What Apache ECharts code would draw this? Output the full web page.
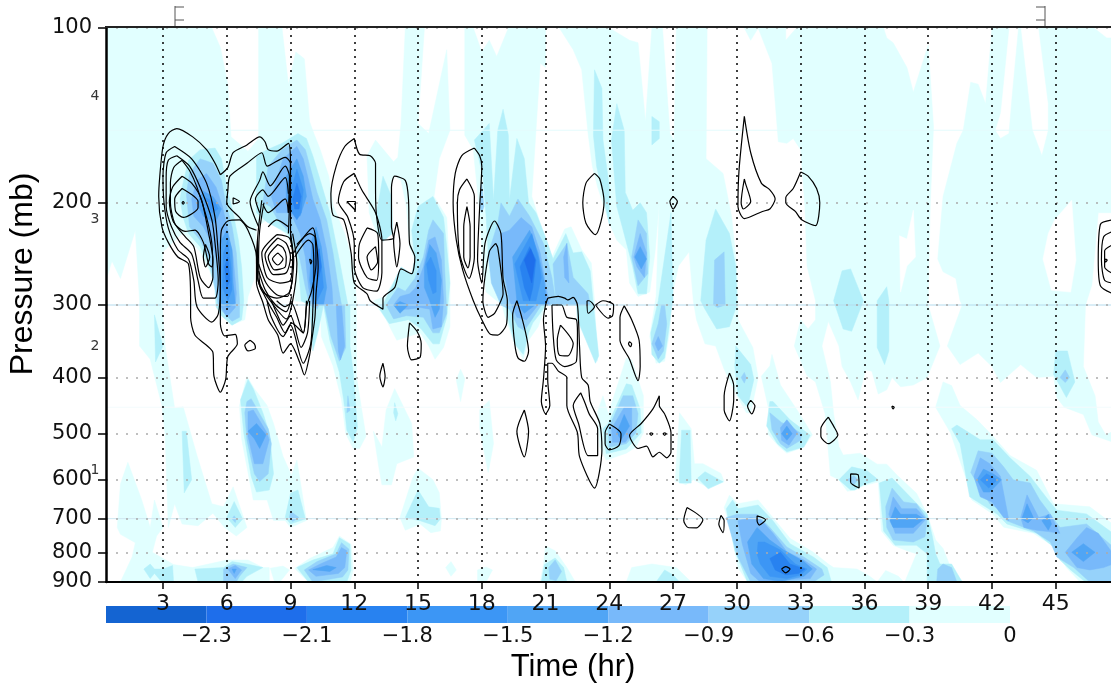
<!DOCTYPE html>
<html><head><meta charset="utf-8">
<style>html,body{margin:0;padding:0;background:#fff}#c{width:1111px;height:687px}</style>
<script src="https://cdn.jsdelivr.net/npm/echarts@6/dist/echarts.min.js"></script>
</head><body><div id="c"></div>
<script>
const xTicks=[3,6,9,12,15,18,21,24,27,30,33,36,39,42,45];
const yTicks=[100,200,300,400,500,600,700,800,900];
const gridLevels=[200,300,400,500,600,700,800];
const heightLabels=[['1',577],['2',354],['3',214],['4',131]];
const barLabels=['\u22122.3','\u22122.1','\u22121.8','\u22121.5','\u22121.2','\u22120.9','\u22120.6','\u22120.3','0'];
const shades=['#1464d2','#1e6eeb','#2882f0','#3c96f5','#50a5f5','#78b9fa','#96d2fa','#b4f0fa','#e1ffff'];
const faintLevels=[[150,'#e4fbfd'],[300,'#b5dcee'],[450,'#f3fbfd'],[700,'#cfe8f2']];

const band0=[
[[.3,100],[5.3,100],[5.7,108],[6.05,125],[6.2,154],[7,163],[7.5,155],[7.5,100],[8.6,100],[8.9,125],[9.25,110],[9.65,113],[9.9,145],[10.1,152],[10.4,162],[10.8,180],[11,202],[11.55,226],[12,258],[12.1,295],[12.1,398],[12.55,505],[12.25,530],[11.95,530],[11.6,500],[11.4,437],[11,382],[10.45,340],[10.4,300],[9.2,295],[9.3,245],[8.75,226],[7.9,214],[7.4,220],[7.3,270],[7,290],[6.85,318],[6.2,325],[5.85,300],[5.7,295],[5.2,262],[4.75,243],[3.95,225],[3,243],[2.95,295],[3.1,353],[3.55,452],[3.95,449],[4.6,545],[5.3,660],[5.85,668],[6.3,617],[6.95,725],[6.45,750],[5.9,725],[5.35,685],[4.65,720],[3.9,715],[3.55,660],[3.25,725],[3.1,500],[2.95,447],[2.4,372],[1.9,353],[1.9,295],[1.7,223],[1,270],[.6,252],[.35,270],[.3,270]],
[[1.35,560],[2,650],[2.4,725],[2.6,650],[3,725],[2.7,750],[2.5,800],[3.5,840],[4.4,850],[6,825],[7,825],[7.7,850],[8,850],[8,900],[1,900],[1.55,815],[1.7,770],[1,745],[.85,725],[1,610]],
[[6.95,398],[6.6,447],[6.7,510],[6.95,570],[7.25,650],[7.9,650],[8.2,705],[8.75,705],[9,725],[9.75,705],[9.3,555],[9.05,590],[8.65,547],[8.2,480],[7.9,447],[7.3,418]],
[[12.9,495],[13.3,527],[13.5,455],[13.9,418],[14.7,480],[14.8,548],[14,563],[13.75,612],[13.3,612],[13.15,570]],
[[14.15,697],[14.75,595],[15,573],[15.7,600],[16,632],[16.1,702],[16.05,735],[15.6,740],[15.1,715],[14.4,733]],
[[16.3,850],[16.55,830],[16.8,858],[16.55,880]],
[[17.8,858],[18.2,848],[18.5,858],[18.2,900],[17.8,900]],
[[17,387],[17.2,402],[17,440],[16.8,404]],
[[17.9,455],[18.35,438],[18.55,520],[18.3,583],[17.9,490]],
[[8.05,852],[8.65,845],[8.95,858],[8.5,900],[8.25,900]],
[[9.2,853],[9.9,820],[11,785],[11.3,750],[11.85,775],[11.95,858],[11.8,900],[9.85,900]],
[[13,156],[13.85,170],[14.05,167],[14.2,146],[14.4,100],[15.3,100],[15,146],[15.5,152],[16.35,109],[16.5,150],[16,168],[15.75,195],[16.35,212],[16.5,275],[16.5,327],[16.2,355],[15.8,372],[15.5,353],[15.1,335],[14,345],[13.5,318],[12.9,295],[13.45,290],[14.2,260],[14.7,265],[14.85,251],[14.6,238],[14.45,203],[14.2,183],[13.9,180],[13.75,183],[13.8,220],[13.5,232],[13.05,226],[12.7,208],[12.6,166]],
[[17.2,100],[17.6,100],[18,110],[18.35,105],[18.7,112],[19.25,100],[21,100],[21,117],[20.75,115],[20.35,195],[21,232],[21.3,248],[21.9,222],[22.2,220],[22.7,241],[23.15,254],[23.3,295],[23.45,375],[23.2,333],[22.9,315],[22.5,295],[21,300],[20.65,327],[20.2,345],[19.95,372],[19.55,350],[19.1,315],[18.95,300],[18.2,285],[18.05,258],[17.9,208],[17.6,162],[17.2,153]],
[[21.65,100],[24,100],[24.95,105],[25.35,106],[25.7,145],[26,100],[26.5,100],[26.85,152],[27.05,156],[27.15,100],[28.6,100],[28.55,168],[29.35,178],[29.75,211],[30,260],[30.05,295],[30.05,318],[30.75,355],[31,400],[30.65,460],[30.45,460],[30,430],[29.4,387],[29,353],[28.5,350],[28.1,318],[27.95,295],[27.75,243],[27.25,257],[26.9,295],[26.85,333],[26.6,375],[26.2,378],[25.9,340],[26.2,290],[26.35,200],[26.15,243],[25.9,285],[25.35,290],[24.95,275],[24.8,241],[24.35,232],[24,217],[23.45,188],[23.2,173],[23,152],[22.7,118],[22.3,109]],
[[30.35,100],[31,100],[30.65,105]],
[[21,780],[21.45,795],[22,850],[22.4,900],[20.75,900],[20.9,840]],
[[23.7,430],[23.95,462],[24.8,370],[25.05,373],[25.6,430],[25.6,498],[25.25,527],[24.8,540],[23.85,555],[23.55,527],[23.45,458]],
[[24.8,900],[25.05,850],[26,838],[27.15,850],[27.85,900]],
[[27.1,603],[27.3,460],[27.85,490],[28,563],[28.4,563],[29.25,585],[29.4,605],[28.7,620],[27.95,600],[27.6,612]],
[[31,100],[32.3,100],[32.3,105],[32.8,100],[36.9,100],[37.05,104],[37.35,106],[38,117],[38.3,129],[39,107],[39.25,148],[39.1,200],[39,295],[39,300],[39.55,353],[38.95,400],[38.3,412],[37.7,415],[37.3,400],[37.05,420],[36.65,427],[36.35,390],[36.05,388],[35.7,437],[35.35,407],[34.95,383],[34.8,353],[34.3,320],[34,353],[34.4,407],[34.55,462],[34.8,526],[35,544],[35.8,540],[36.6,564],[37.05,564],[37.55,590],[38.45,633],[38.95,688],[39.35,762],[39.7,788],[40.1,858],[40.65,900],[37.9,900],[38.45,805],[38,795],[37.35,778],[36.8,735],[36.65,605],[35.95,615],[35.55,625],[35.2,628],[34.8,600],[34.4,590],[34.15,462],[33.7,407],[33.3,397],[32.7,353],[33,318],[33.35,330],[33.7,318],[33.7,295],[33.3,257],[33.2,203],[33,162],[32.65,155],[32.35,158],[31.95,157],[31.8,134],[31.65,115]],
[[36.6,900],[37,860],[37.6,880],[37.85,900]],
[[41,124],[41.35,125],[41.7,135],[42,100],[42.8,100],[42.4,140],[42.15,150],[42.4,155],[42.8,152],[42.95,131],[43.25,100],[43.35,100],[43.9,150],[44.35,166],[44.65,150],[44.65,135],[44.2,100],[46.8,100],[47.4,104],[47.7,104],[47.7,208],[47,208],[46.7,277],[46.4,300],[46.3,383],[46.85,430],[47,477],[47.35,502],[47.7,495],[47.7,517],[46.7,502],[46.3,463],[45.4,450],[45.05,433],[44.9,398],[44.1,400],[43.35,380],[42.4,408],[42,383],[41.35,363],[40.5,380],[39.9,353],[40.6,300],[40.5,295],[40.3,270],[39.7,263],[39.45,250],[39.55,226],[39.7,195],[40.35,158],[40.65,150]],
[[31.55,382],[31.15,398],[31.55,463],[31.45,500],[32,527],[32.35,540],[33.15,527],[33.55,502],[33,465],[32.05,412],[31.65,365]],
[[29.4,670],[29.65,638],[30.05,660],[31,650],[31.55,687],[32.5,757],[33.6,800],[34.3,838],[34.55,850],[35.65,855],[36.25,880],[36.6,900],[30.5,900],[30.05,850],[29.7,725]],
[[39.35,450],[39.7,407],[40.1,413],[40.5,447],[41.3,473],[42.05,505],[42.85,545],[44.1,578],[44.9,660],[46.6,668],[47.7,716],[47.7,900],[46.15,900],[45.5,850],[45.05,788],[43.95,742],[42.55,724],[42.05,688],[41.05,650],[40.8,600],[40.05,498]]
];
const gaps=[
[[45.75,198],[45.5,203],[44.95,214],[44.65,226],[44.4,250],[44.8,283],[45.7,285],[45.95,251]],
[[38.3,206],[38.4,248],[38,257],[37.7,285],[37.65,228],[38,231]]
];
const band1=[
[[3.9,188],[4.2,169],[4.75,162],[5.45,161],[5.75,168],[6,188],[6.3,208],[6.55,232],[6.7,258],[6.8,295],[6.7,318],[6.25,325],[5.75,313],[5.5,302],[5.45,283],[5.2,258],[4.75,238],[4.2,226],[3.95,212],[3.8,197]],
[[7.4,208],[7.4,166],[7.9,162],[8.6,158],[9.35,152],[9.75,155],[10.05,166],[10.4,183],[10.85,208],[11.3,251],[11.7,300],[10.55,300],[10.3,333],[10.05,360],[9.9,300],[9.5,295],[9.35,251],[8.9,226],[7.9,216]],
[[10.55,300],[10.85,345],[11.3,392],[11.5,437],[11.65,493],[11.95,517],[12.15,487],[12.05,437],[11.95,392],[11.8,353],[11.8,300]],
[[2.6,312],[3,353],[2.65,376]],
[[3.9,495],[4.1,495],[4.35,600],[4,632]],
[[7,403],[6.65,437],[6.8,498],[7.15,592],[7.4,630],[8,625],[8.2,586],[8,498],[7.7,460],[7.25,418]],
[[6.35,654],[6,697],[6.4,725],[6.75,701]],
[[9,633],[9.35,625],[9.7,701],[9,715],[8.75,697]],
[[13.9,442],[14.05,462],[13.95,475],[13.85,460]],
[[14.4,697],[15,625],[15.5,668],[16,672],[16.05,701],[15.8,720],[15.1,706]],
[[2.1,855],[2.4,838],[2.6,855],[3,855],[3.45,843],[3.5,900],[2.95,900],[2.6,870],[2.4,888]],
[[4.5,855],[5.85,850],[6.25,830],[6.95,838],[7.7,850],[6.95,880],[6.7,900],[4.65,900]],
[[9.3,850],[10.05,825],[11,805],[11.3,755],[11.8,775],[11.85,858],[11.65,900],[9.85,900]],
[[13.35,300],[14.2,258],[14.7,265],[14.85,251],[14.7,223],[15,203],[15.7,195],[16.2,212],[16.35,238],[16.5,275],[16.35,315],[16,350],[15.7,350],[15.15,330],[14.55,318],[13.65,323],[13.2,305]],
[[13.05,208],[13.35,180],[13.75,195],[13.8,226],[13.35,233],[13.1,226]],
[[17.65,156],[18.35,146],[18.55,198],[18.75,150],[19,138],[19.25,153],[19.3,198],[19.65,155],[20,168],[20.2,200],[20.55,208],[21.05,232],[21.35,250],[21.95,226],[22.3,244],[22.7,243],[23.1,262],[23.25,300],[23.5,367],[23.35,378],[22.9,345],[22.5,318],[22.45,300],[21,300],[20.75,310],[20.4,322],[20.2,335],[19.95,365],[19.55,350],[19.25,318],[19.1,300],[18.55,272],[18.3,245],[18.2,211],[18.05,180]],
[[23.3,118],[23.65,127],[23.7,156],[24,188],[24,218],[23.4,173],[23.25,153]],
[[24.1,156],[24.35,135],[24.7,150],[24.75,192],[25.1,206],[25.45,200],[25.75,208],[25.9,248],[25.75,287],[25.35,287],[25.1,258],[24.65,223],[24.35,203]],
[[26,142],[26.35,145],[26.35,155],[26,159]],
[[28.3,295],[28.55,232],[29,205],[29.65,226],[29.95,258],[30,300],[29.65,327],[29.05,330],[28.5,305]],
[[26.3,295],[26.9,208],[27,295],[26.95,300],[26.75,340],[26.6,370],[26.35,378],[26,365],[25.95,335]],
[[29.95,353],[30.65,380],[30.8,403],[30.5,450],[30.05,430],[29.9,383]],
[[23.7,490],[23.95,480],[24.8,410],[25.05,412],[25.45,453],[25.5,498],[24.8,531],[23.85,541]],
[[20.95,840],[21.45,818],[21.85,850],[22,900],[20.8,900]],
[[26.2,900],[26.6,858],[27,875],[27.3,900]],
[[27.3,586],[27.4,493],[27.8,493],[27.85,608],[27.3,608]],
[[28.15,596],[28.5,581],[29.35,605],[28.65,622]],
[[31.55,440],[31.7,440],[32.5,473],[33.45,503],[33.15,527],[32.35,537],[31.9,520],[31.4,485]],
[[34.8,600],[35.4,570],[36.1,578],[36.65,600],[35.95,612],[35.55,625],[35.35,625]],
[[29.5,673],[29.8,650],[30.05,673],[31,663],[31.7,706],[32.5,773],[33.6,815],[34.25,850],[34.45,900],[30.5,900],[29.9,795]],
[[36.7,608],[37.3,596],[38.15,642],[38.95,688],[39.2,752],[39.35,805],[39.55,838],[40.1,838],[40.6,900],[38.95,900],[38.95,805],[38.45,778],[37.45,778],[36.9,735]],
[[40.1,490],[40.35,483],[41.45,512],[42.05,512],[42.85,550],[43.8,592],[44.65,650],[45.05,677],[46.45,687],[47.7,742],[47.7,900],[46.4,900],[45.7,858],[45.2,825],[44.9,783],[44.1,742],[42.7,715],[42.25,688],[40.95,642],[40.5,520]],
[[34.55,295],[34.95,262],[35.35,260],[35.95,295],[35.4,333],[35,330]],
[[36.6,295],[37.05,279],[37.15,295],[37.15,360],[36.95,380],[36.6,355]],
[[45,360],[45.55,360],[45.9,407],[45.5,433],[44.9,395]]
];
const band2=[
[[4.1,193],[4.25,178],[4.75,168],[5.35,171],[5.75,183],[5.95,200],[6.25,220],[6.45,244],[6.6,295],[6.6,315],[6.25,320],[5.8,308],[5.6,300],[5.45,280],[5.2,251],[4.75,232],[4.25,220]],
[[7.95,173],[8.6,162],[9.3,156],[9.7,162],[9.95,175],[10.25,192],[10.7,214],[11,244],[11.25,280],[11.4,300],[10.7,300],[10.6,286],[10.25,305],[9.9,300],[9.7,280],[9.45,251],[9,226],[8.4,214],[8.05,203],[7.7,200]],
[[10.6,300],[10.9,340],[11.3,375],[11.6,355],[11.55,300]],
[[11.7,430],[11.8,456],[11.65,460]],
[[13.5,300],[14.05,280],[14.4,284],[14.85,270],[15.25,248],[15.5,223],[15.7,214],[16.2,226],[16.25,258],[16.35,310],[16,335],[15.7,335],[15.25,315],[14.45,313],[13.85,317]],
[[18.75,217],[18.9,200],[19.3,211],[19.7,197],[20.25,211],[20.9,235],[21.3,269],[21.5,300],[20.8,300],[20.35,318],[20,332],[19.7,327],[19.3,305],[18.9,300],[18.45,275],[18.3,245],[18.55,229]],
[[17.9,203],[18,185],[18.1,203],[18,208]],
[[21.35,255],[22,235],[22.3,269],[23,287],[23.1,300],[21.5,300]],
[[25.35,214],[25.75,226],[25.8,265],[25.35,278],[25.05,248]],
[[28.95,251],[29.4,243],[29.45,300],[29.1,303],[28.9,300]],
[[26.3,323],[26,350],[26.3,372],[26.55,360],[26.7,323],[26.6,300],[26.45,300]],
[[30.35,392],[30.2,400],[30.35,409],[30.45,400]],
[[23.95,490],[24.65,430],[25.1,430],[25.35,462],[25.25,498],[24.8,520],[24,527]],
[[21.15,850],[21.45,825],[21.75,863],[21.5,895],[21.2,890]],
[[6.95,440],[7.15,435],[7.95,490],[8.1,520],[7.95,586],[7.55,604],[7.3,586],[6.95,513],[6.85,460]],
[[6.35,692],[6.25,701],[6.4,711],[6.45,701]],
[[9,680],[9.4,697],[9.1,708],[8.95,697]],
[[5.85,855],[6.3,838],[6.95,850],[6.6,880],[6.45,900],[5.85,900]],
[[9.65,858],[10.25,830],[11.15,805],[11.4,770],[11.75,790],[11.7,858],[11.45,882],[10.05,900]],
[[29.5,697],[30,688],[30.95,688],[31.55,725],[32.35,783],[33.15,815],[34,855],[34.1,875],[33.6,900],[30.65,900],[30.05,815]],
[[31.55,460],[32.1,478],[32.5,485],[33.05,500],[33,513],[32.35,530],[32.05,520],[31.65,492]],
[[35.2,600],[35.5,590],[35.7,600],[35.5,612]],
[[37,668],[37.3,620],[37.85,655],[38.45,660],[38.95,701],[38.85,752],[38.3,768],[37.35,762],[37.05,725]],
[[39.4,900],[39.45,855],[39.7,838],[40.1,850],[40.35,900]],
[[41,583],[41.35,535],[42,540],[42.55,570],[43,600],[43.8,608],[44.25,650],[44.75,688],[45.2,725],[46.45,715],[47.7,783],[47.7,900],[46.6,900],[45.85,850],[45.05,815],[44.75,768],[43.95,735],[42.7,706],[42.4,677],[41.9,660]],
[[45.2,400],[45.45,388],[45.65,400],[45.45,408]]
];
const band3=[
[[4.35,197],[4.6,183],[5.05,178],[5.5,188],[5.8,203],[6.05,223],[6.3,248],[6.45,286],[6.4,303],[6,315],[5.7,300],[5.65,286],[5.6,258],[5.3,235],[4.9,220],[4.45,211]],
[[8.1,195],[8.65,168],[9.3,160],[9.6,168],[9.85,183],[10.05,197],[10.4,214],[10.7,241],[10.95,280],[11,300],[10.05,300],[9.85,280],[9.7,248],[9.45,226],[9,208],[8.35,208]],
[[11.15,300],[11.25,360],[11.35,373],[11.55,353],[11.4,300]],
[[13.85,300],[14.15,290],[14.6,287],[14.9,280],[15.25,258],[15.5,232],[15.8,229],[16.1,251],[16.2,295],[16.1,327],[15.7,330],[15.55,305],[15.1,303],[14.55,305],[14.05,305]],
[[18.9,226],[19.3,223],[19.85,212],[20.35,220],[20.75,244],[21.05,283],[21.2,300],[20.65,300],[20.1,318],[19.65,315],[19.4,300],[19.3,295],[19.15,275],[18.85,251]],
[[21.85,248],[22,235],[22.1,275],[21.9,269]],
[[25.45,226],[25.75,244],[25.65,269],[25.3,258],[25.15,248]],
[[26.15,350],[26.3,340],[26.5,353],[26.3,360]],
[[24.1,490],[24.7,450],[25.05,450],[25.05,498],[24.75,517],[24.15,517]],
[[7,458],[7.25,455],[7.85,495],[8,512],[7.7,563],[7.3,563],[7,505]],
[[6.05,855],[6.4,843],[6.7,858],[6.4,888]],
[[9.85,858],[10.4,838],[11.15,815],[11.4,785],[11.65,795],[11.55,850],[11.25,870],[10.2,880]],
[[30.05,706],[30.65,697],[31.1,701],[31.7,742],[32.35,798],[33.15,825],[33.75,855],[33.45,888],[31.1,900],[30.65,870],[30.25,773]],
[[32.05,488],[32.35,473],[32.85,498],[32.45,523],[32.1,513]],
[[37.15,688],[37.35,642],[37.75,673],[38.45,673],[38.9,701],[38.3,742],[37.45,742]],
[[41.15,592],[41.45,550],[41.9,563],[42.4,592],[42.8,706],[42.55,697],[42,655],[41.45,642]],
[[43.35,697],[43.65,637],[44.2,697],[44.75,688],[45.2,742],[44.65,737],[44.1,733],[43.5,725]],
[[45.45,800],[46.05,752],[46.45,725],[47,742],[47.7,805],[47.7,838],[47.25,850],[46.6,858],[46,850]]
];
const band4=[
[[4.6,200],[4.9,191],[5.35,195],[5.75,205],[5.45,217],[4.9,211]],
[[5.75,232],[6,223],[6.25,241],[6.3,275],[6.4,298],[6.05,303],[5.75,298],[5.7,258]],
[[8.8,180],[9.3,168],[9.6,180],[9.75,195],[9.45,211],[9.15,208],[8.8,197]],
[[10,232],[10.2,220],[10.45,238],[10.7,280],[10.55,300],[10.05,300],[9.9,272]],
[[15.3,258],[15.55,236],[15.85,244],[16.1,272],[16,305],[15.8,315],[15.55,295],[15.3,280]],
[[13.85,300],[14.15,296],[14.55,300],[14.15,310]],
[[19.45,248],[20.25,223],[20.65,244],[20.95,275],[21.05,300],[20.5,300],[20,310],[19.7,300],[19.65,295]],
[[25.45,238],[25.75,250],[25.5,260],[25.2,248]],
[[24.35,498],[24.7,463],[24.95,485],[24.55,512]],
[[7,495],[7.4,480],[7.85,502],[7.55,530],[7.3,510]],
[[6.25,855],[6.45,855],[6.35,870]],
[[10.05,857],[10.7,843],[11.15,850],[10.85,863]],
[[30.5,768],[30.95,725],[31.55,762],[32.2,793],[33.15,830],[33.55,855],[33.15,880],[32.05,898],[31.25,888],[30.7,838]],
[[32.1,500],[32.35,485],[32.6,500],[32.35,513]],
[[37.2,706],[37.45,668],[37.7,688],[38.45,688],[38.8,701],[38.3,725],[37.35,725]],
[[41.3,600],[41.6,575],[42.05,586],[42.45,600],[41.9,630],[41.6,630]],
[[43.4,701],[43.65,660],[43.95,697],[43.7,712]],
[[44.35,706],[44.65,688],[44.8,715],[44.65,733]],
[[45.75,800],[46.3,773],[46.85,800],[46.3,830]]
];
const band5=[
[[5.85,244],[6.05,232],[6.2,258],[6.25,282],[6.05,295],[5.8,280]],
[[5,196],[5.45,200],[5.6,205],[5.3,208]],
[[8.95,195],[9.3,175],[9.6,190],[9.5,208],[9.3,214],[8.95,205]],
[[10.05,244],[10.25,232],[10.45,255],[10.55,280],[10.25,295],[10,275]],
[[15.4,255],[15.6,248],[15.85,262],[15.85,285],[15.7,287],[15.5,272]],
[[19.55,255],[20.35,226],[20.65,248],[20.8,269],[20.55,295],[19.95,295]],
[[30.95,805],[31,768],[31.3,768],[32.05,793],[32.75,838],[33.3,855],[33,875],[32.35,888],[31.55,880],[31.1,838]],
[[41.45,600],[41.75,586],[42.25,600],[41.85,620]]
];
const band6=[
[[5.9,258],[6.05,248],[6.15,272],[6,280]],
[[9.1,197],[9.3,185],[9.5,195],[9.4,205],[9.2,205]],
[[10.2,244],[10.35,240],[10.45,258],[10.3,272],[10.15,258]],
[[19.8,258],[20.25,238],[20.55,251],[20.4,280],[20.25,295],[20,280]],
[[31.55,820],[32.05,800],[32.5,838],[33.2,855],[32.9,870],[32.3,875],[31.8,858]]
];
const band7=[
[[20,251],[20.3,240],[20.5,251],[20.35,275]]
];

const closedContours=[
[[5.7,179],[5.45,171],[5.05,162],[4.4,154],[3.65,149],[3.25,152],[3,160],[2.85,180],[2.8,195],[2.95,220],[3.25,234],[3.7,248],[4.2,255],[4.3,295],[4.3,315],[4.5,338],[5.05,352],[5.35,362],[5.4,398],[5.7,424],[5.95,403],[6.05,368],[6.5,350],[6.4,337],[5.9,339],[5.7,323],[5.7,295],[5.7,244],[5.75,223],[6.05,215],[6.6,214],[7,223],[7.4,248],[7.4,275],[7.7,297],[7.95,318],[8.4,338],[8.65,363],[9,350],[9.45,378],[9.65,396],[9.9,366],[10,345],[10.15,315],[10.2,287],[10.3,258],[10.2,232],[10.05,221],[9.3,238],[9.15,244],[9,226],[9,203],[9,173],[8.9,158],[8.35,163],[7.95,162],[7.8,157],[7.55,154],[6.95,159],[6.3,164],[6.05,174]],
[[3.55,160],[3.15,164],[3,180],[3.05,200],[3.25,221],[3.7,241],[4.2,250],[4.45,272],[4.6,302],[5.3,321],[5.6,311],[5.7,280],[5.6,244],[5.45,212],[5.05,185],[4.35,168]],
[[3.65,166],[3.25,169],[3.15,181],[3.15,203],[3.4,220],[3.8,234],[4.35,245],[4.65,272],[4.9,292],[5.45,292],[5.6,272],[5.45,235],[5.3,214],[4.8,190],[4.25,173]],
[[3.9,169],[3.5,174],[3.35,185],[3.35,200],[3.55,217],[4.05,229],[4.45,238],[4.75,269],[5.15,280],[5.35,269],[5.3,235],[5.05,212],[4.6,188],[4.25,176]],
[[3.9,180],[3.45,188],[3.3,199],[3.5,216],[4.05,224],[4.5,223],[4.9,234],[5.15,255],[5.3,258],[5.35,251],[5.15,226],[4.8,197],[4.35,185]],
[[3.9,189],[3.55,197],[3.6,207],[3.95,212],[4.65,204],[4.65,199]],
[[5,236],[4.9,248],[5,258],[5.2,248]],
[[3.95,199],[4,200],[3.95,201],[3.9,200]],
[[6.3,196],[6.6,199],[6.3,201]],
[[8.4,244],[8.15,250],[8.4,256],[8.65,250]],
[[8.4,236],[7.95,248],[8.25,261],[8.75,258],[8.8,248],[8.65,239]],
[[8.4,230],[7.8,246],[8.2,266],[8.8,264],[9,248],[8.8,235]],
[[8.35,227],[7.65,244],[7.9,269],[8.5,275],[9,272],[9.1,248],[8.95,230]],
[[9.9,250],[10,252],[9.95,255]],
[[7.1,345],[6.85,352],[7,360],[7.35,356],[7.3,350]],
[[12,155],[12.25,165],[12.75,166],[13,171],[13,190],[13.05,211],[13.3,232],[13.85,230],[13.75,220],[13.75,188],[13.9,180],[14.4,183],[14.55,197],[14.6,235],[14.85,248],[14.7,265],[14.2,260],[13.9,280],[13.35,292],[13.35,305],[12.75,295],[12.6,287],[12,275],[11.85,244],[11.5,214],[11,210],[10.9,193],[11.15,173],[11.55,160]],
[[12,178],[11.5,184],[11.25,199],[11.7,212],[12,235],[12,258],[12.4,280],[13.05,284],[13.3,264],[13.3,232],[13,208],[12.35,190]],
[[12.6,221],[12.25,235],[12.2,248],[12.6,269],[13.05,272],[13.15,248],[13.1,226]],
[[13,238],[12.6,248],[12.8,261],[13.1,253]],
[[11.65,199],[12.05,199],[12.05,206]],
[[14,216],[13.85,232],[14,258],[14.15,235]],
[[13.35,378],[13.2,398],[13.35,415],[13.45,398]],
[[14.6,322],[14.5,353],[14.7,373],[15.1,369],[15.15,350],[14.95,333]],
[[17.65,161],[17.05,166],[16.75,178],[16.65,200],[16.8,232],[17.1,261],[17.6,295],[18,318],[18.4,337],[18.75,338],[19.15,325],[19.2,305],[19.2,295],[19,270],[18.9,226],[18.6,215],[18.15,235],[18,275],[17.8,251],[17.9,203],[18,173],[17.9,166]],
[[17.3,182],[16.95,190],[16.85,200],[16.95,244],[17.4,270],[17.65,248],[17.65,195]],
[[17.3,203],[17.15,220],[17.15,248],[17.35,259],[17.45,248],[17.45,220]],
[[18.65,235],[18.35,243],[18.05,295],[18.3,315],[18.6,310],[18.9,295],[19,287],[18.75,239]],
[[19.65,295],[19.45,312],[19.55,350],[19.7,370],[20,375],[20.2,360],[20.1,340],[19.85,312]],
[[21.1,292],[21.6,290],[21.9,292],[22.05,294],[22.3,291],[22.5,300],[22.6,355],[22.7,400],[23,412],[23.1,440],[23.55,480],[23.65,533],[23.3,620],[22.6,548],[22.5,498],[22,447],[22,400],[21.6,390],[21.3,378],[21.1,378],[21.1,403],[21.2,447],[21,462],[20.8,440],[20.9,403],[21,353],[20.9,318],[21,300]],
[[21.3,300],[21.35,335],[21.5,373],[21.9,383],[22.45,375],[22.5,335],[22.45,318],[22,315],[21.75,300]],
[[21.7,325],[21.55,345],[21.65,366],[22.05,367],[22.3,350]],
[[22.65,425],[22.3,447],[22.55,480],[23,545],[23.45,545],[23.45,490],[23.05,462],[22.85,442]],
[[22.95,295],[23,310],[23.3,302],[23.05,295]],
[[23.35,300],[23.7,295],[24.2,300],[24.15,313],[23.95,316]],
[[24.7,301],[24.5,315],[24.5,345],[24.95,372],[25.35,405],[25.45,383],[25.4,345],[25.05,318]],
[[24.95,347],[25.05,350],[25,354],[24.9,350]],
[[20,455],[19.65,495],[20,548],[20.2,495]],
[[24,481],[23.8,498],[23.8,520],[24,533],[24.45,524],[24.55,500]],
[[26.35,430],[26.05,453],[25.5,480],[24.95,503],[25.35,530],[25.75,525],[26.05,548],[26.35,538],[26.7,550],[26.9,538],[26.9,498],[26.6,462],[26.35,447]],
[[25.97,498],[26.05,500],[25.97,503],[25.9,500]],
[[26.6,498],[26.68,500],[26.6,503],[26.53,500]],
[[27.65,670],[27.5,705],[27.7,725],[28.1,726],[28.4,704]],
[[29.25,691],[29.15,716],[29.35,740],[29.4,706]],
[[29.65,393],[29.4,430],[29.4,455],[29.65,475],[29.85,437],[29.85,413]],
[[30.65,438],[30.5,448],[30.7,462],[30.85,448]],
[[23.3,178],[22.9,185],[22.75,200],[22.9,217],[23.35,227],[23.6,216],[23.75,199],[23.55,182]],
[[27,195],[26.85,199],[27,205],[27.2,199]],
[[30.35,142],[30.65,164],[31.15,185],[31.55,190],[31.8,197],[31.55,205],[31.2,207],[30.35,213],[30.05,203],[30.1,176]],
[[30.35,182],[30.2,200],[30.3,205],[30.65,199],[30.4,185]],
[[33,177],[32.65,189],[32.3,196],[32.3,200],[32.75,207],[33.05,214],[33.7,219],[33.9,200],[33.75,189],[33.35,180]],
[[34.3,468],[33.95,490],[33.95,505],[34.3,520],[34.75,502],[34.55,485]],
[[37.3,448],[37.4,450],[37.35,453],[37.3,450]],
[[32.1,855],[32.3,847],[32.5,855],[32.3,868]],
[[35.35,586],[35.7,588],[35.75,620],[35.35,606]],
[[30.95,692],[31.35,703],[31.05,718],[30.95,706]],
[[47.35,250],[47.42,251],[47.35,253],[47.3,251]]
];
const openContours=[
[[7.4,223],[7,220],[6.6,212],[6,200],[6.05,191],[6.15,180],[6.95,171],[7.65,164],[7.9,173],[8.75,167],[9,171],[8.95,203],[8.9,226]],
[[7.5,220],[7.1,199],[7.55,183],[7.7,177],[8.05,187],[8.75,173],[8.95,180],[8.9,208]],
[[7.55,208],[7.35,197],[7.7,190],[7.95,195],[8.75,181],[8.9,193]],
[[7.7,201],[7.95,208],[8.75,197],[8.9,208]],
[[7.95,220],[8.35,214],[8.9,220]],
[[7.65,198],[7.5,220],[7.4,248],[7.45,269],[7.7,285],[8.35,292],[8.95,285],[9.15,251],[9,226]],
[[7.75,200],[7.55,223],[7.5,248],[7.55,275],[8.2,300],[8.8,317],[9.1,295],[9.3,255],[9.1,226]],
[[7.45,232],[7.45,269],[7.9,295],[8.35,315],[8.75,335],[9.05,322],[9.6,335],[9.75,302],[10,283],[10.2,255],[10.15,229],[9.9,226],[9.3,236]],
[[7.9,295],[8.1,315],[8.65,340],[9,325],[9.6,378],[9.95,350],[10.05,305],[10.1,265],[10.05,236],[9.85,232],[9.2,248]],
[[8.1,295],[8.35,310],[8.65,325],[9,313],[9.5,355],[9.8,335],[9.9,295]],
[[8.35,295],[8.75,302],[9.05,298],[9.6,335],[9.7,320],[9.75,295]],
[[7.5,262],[7.8,282],[8.3,300],[8.8,308],[9.05,290]],
[[7.5,255],[7.85,275],[8.35,288],[8.85,290],[9.1,270]],
[[47.7,214],[47.1,218],[47,251],[47.1,278],[47.7,287]],
[[47.7,224],[47.25,229],[47.15,251],[47.3,272],[47.7,275]],
[[47.7,236],[47.3,242],[47.3,258],[47.7,265]]
];

const xMin=.32, xMax=47.6, pTop=100, pBottom=900;
const bands=[band0,gaps,band1,band2,band3,band4,band5,band6,band7];
const bandFill=['#e1ffff','#ffffff','#b4f0fa','#96d2fa','#78b9fa','#50a5f5','#3c96f5','#2882f0','#1e6eeb'];
const series=[];
bands.forEach((polys,b)=>{
 series.push({type:'custom',coordinateSystem:'cartesian2d',clip:true,z:2+b*0.01,silent:true,animation:false,
  data:polys.map((_,i)=>[i,500]),
  renderItem:(params,api)=>({type:'polygon',shape:{points:polys[api.value(0)].map(p=>api.coord(p))},
    style:{fill:bandFill[b],stroke:bandFill[b],lineWidth:.5}})});
});
faintLevels.forEach(([p,c])=>series.push({type:'line',data:[[xMin,p],[xMax,p]],symbol:'none',z:3,silent:true,animation:false,lineStyle:{color:c,width:1}}));
closedContours.forEach(c=>series.push({type:'line',data:c.concat([c[0]]),symbol:'none',smooth:.25,z:8,silent:true,animation:false,lineStyle:{color:'#000',width:1.2}}));
openContours.forEach(c=>series.push({type:'line',data:c,symbol:'none',smooth:.25,z:8,silent:true,animation:false,lineStyle:{color:'#000',width:1.2}}));
series.push({type:'custom',coordinateSystem:'cartesian2d',clip:false,z:9,silent:true,animation:false,
 data:heightLabels.map(h=>[xMin,h[1]]),
 renderItem:(params,api)=>{const pt=api.coord([api.value(0),api.value(1)]);
  return {type:'text',x:pt[0]-11,y:pt[1],style:{text:heightLabels[params.dataIndex][0],fill:'#333',fontFamily:'DejaVu Sans',fontSize:14,textAlign:'center',textVerticalAlign:'middle'}};}});
shades.forEach((c,i)=>series.push({type:'bar',xAxisIndex:1,yAxisIndex:1,stack:'bar',barWidth:'100%',data:[1],silent:true,animation:false,itemStyle:{color:c},z:1}));

const chart=echarts.init(document.getElementById('c'),null,{renderer:'canvas'});
chart.setOption({animation:false,backgroundColor:'#fff',
 grid:[{left:106,top:28,right:0,bottom:105,containLabel:false},{left:106,top:606,width:904,height:17}],
 xAxis:[{type:'value',min:xMin,max:xMax,z:5,
   axisLine:{show:true,lineStyle:{color:'#000',width:2}},
   axisTick:{show:true,length:7,customValues:xTicks,lineStyle:{color:'#000',width:1.5}},
   axisLabel:{show:true,customValues:xTicks,margin:11,color:'#111',fontFamily:'DejaVu Sans',fontSize:22},
   splitLine:{show:true,lineStyle:{color:'#000',type:[2,5],width:1.5}}},
  {type:'value',gridIndex:1,min:0,max:9,interval:1,axisLine:{show:false},axisTick:{show:false},splitLine:{show:false},
   axisLabel:{show:true,margin:3,color:'#111',fontFamily:'DejaVu Sans',fontSize:21,hideOverlap:false,showMinLabel:true,showMaxLabel:true,formatter:v=>v>0?barLabels[v-1]:''}}],
 yAxis:[{type:'log',logBase:10,min:pTop,max:pBottom,inverse:true,z:5,
   axisLine:{show:true,lineStyle:{color:'#000',width:2.5}},
   axisTick:{show:true,length:8,customValues:yTicks,lineStyle:{color:'#000',width:1.5}},
   axisLabel:{show:true,customValues:yTicks,margin:14,color:'#111',fontFamily:'DejaVu Sans',fontSize:21,padding:[4,0,0,0],formatter:v=>String(v)},
   splitLine:{show:true,customValues:gridLevels,lineStyle:{color:'#aaa',type:[2,8],width:1.5}},minorTick:{show:false}},
  {type:'category',gridIndex:1,data:[''],axisLine:{show:false},axisTick:{show:false},axisLabel:{show:false}}],
 graphic:[
  {type:'text',x:573,y:667,style:{text:'Time (hr)',fontFamily:'Liberation Sans',fontSize:31,fill:'#000',textAlign:'center',textVerticalAlign:'middle'}},
  {type:'text',x:23,y:274,rotation:Math.PI/2,style:{text:'Pressure (mb)',fontFamily:'Liberation Sans',fontSize:32,fill:'#000',textAlign:'center',textVerticalAlign:'middle'}},
  {type:'line',shape:{x1:175,y1:6,x2:175,y2:27},style:{stroke:'#555',lineWidth:1}},
  {type:'line',shape:{x1:175,y1:7,x2:184,y2:7},style:{stroke:'#555',lineWidth:1}},
  {type:'line',shape:{x1:175,y1:20,x2:184,y2:20},style:{stroke:'#555',lineWidth:1}},
  {type:'line',shape:{x1:1045,y1:6,x2:1045,y2:27},style:{stroke:'#555',lineWidth:1}},
  {type:'line',shape:{x1:1036,y1:7,x2:1045,y2:7},style:{stroke:'#555',lineWidth:1}},
  {type:'line',shape:{x1:1036,y1:20,x2:1045,y2:20},style:{stroke:'#555',lineWidth:1}},
  {type:'line',z:20,shape:{x1:105,y1:27,x2:1111,y2:27},style:{stroke:'#222',lineWidth:2}}
 ],
 series});
</script></body></html>
